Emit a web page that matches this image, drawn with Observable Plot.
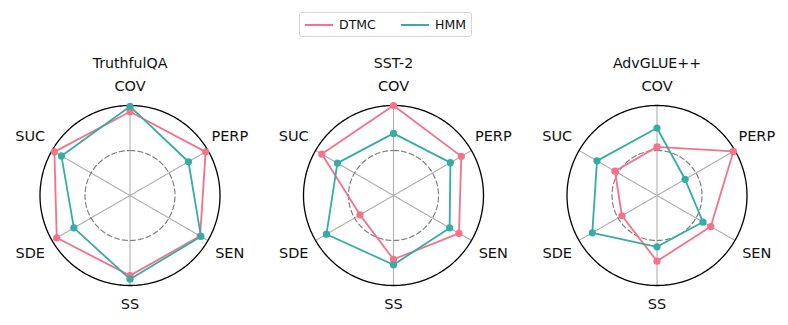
<!DOCTYPE html>
<html>
<head>
<meta charset="utf-8">
<script src="https://cdn.jsdelivr.net/npm/d3@7"></script>
<script src="https://cdn.jsdelivr.net/npm/@observablehq/plot@0.6"></script>
<style>
  body { margin: 0; background: #fff; font-family: "DejaVu Sans", sans-serif; }
  #legend { position: relative; width: 788px; height: 45px; }
  #legend .box { position: absolute; left: 299px; top: 12px; width: 171px; height: 23px;
    border: 1px solid #d6d6d6; border-radius: 3px; box-sizing: content-box; }
  #legend .sw { position: absolute; height: 2px; top: 11px; width: 28px; }
  #legend .lb { position: absolute; top: 3px; font-size: 12.5px; line-height: 17px; color: #111; }
</style>
</head>
<body>
<div id="legend"></div>
<div id="chart"></div>
<script>
const datasets = ["TruthfulQA", "SST-2", "AdvGLUE++"];
const metrics = ["COV", "PERP", "SEN", "SS", "SDE", "SUC"];
const models = ["DTMC", "HMM"];
const colors = ["#f77189", "#36ada4"];

const dtmcTruthfulQA = [0.93, 0.97, 0.90, 0.89, 0.94, 0.97];
const hmmTruthfulQA  = [0.99, 0.75, 0.91, 0.93, 0.72, 0.88];
const dtmcSST2       = [1.00, 0.87, 0.84, 0.71, 0.43, 0.92];
const hmmSST2        = [0.69, 0.73, 0.72, 0.77, 0.86, 0.72];
const dtmcAdvGLUE    = [0.54, 0.98, 0.69, 0.73, 0.45, 0.54];
const hmmAdvGLUE     = [0.75, 0.36, 0.59, 0.57, 0.83, 0.77];

const seriesValues = [
  [dtmcTruthfulQA, hmmTruthfulQA],
  [dtmcSST2, hmmSST2],
  [dtmcAdvGLUE, hmmAdvGLUE]
];

// layout constants (in data units, 1 = outer circle radius)
const spacing = 263.5 / 90;
const angleOf = k => k * Math.PI * 2 / metrics.length;

// build tables
const points = [];
const lines = [];
datasets.forEach((ds, p) => {
  models.forEach((m, mi) => {
    const vals = seriesValues[p][mi];
    vals.forEach((v, k) => {
      const a = angleOf(k);
      const pt = {dataset: ds, model: m, metric: metrics[k], value: v,
        x: p * spacing + v * Math.sin(a), y: v * Math.cos(a)};
      points.push(pt);
      lines.push({...pt, order: k});
    });
    const a0 = angleOf(0);
    lines.push({dataset: ds, model: m, metric: metrics[0], value: vals[0], order: vals.length,
      x: p * spacing + vals[0] * Math.sin(a0), y: vals[0] * Math.cos(a0)});
  });
});

const rings = [];
datasets.forEach((ds, p) => {
  [1, 0.5].forEach(r => {
    for (let i = 0; i <= 360; i++) {
      const a = i * Math.PI / 180;
      rings.push({dataset: ds, ring: r, x: p * spacing + r * Math.sin(a), y: r * Math.cos(a)});
    }
  });
});

const spokes = [];
const labels = [];
datasets.forEach((ds, p) => {
  metrics.forEach((m, k) => {
    const a = angleOf(k);
    spokes.push({dataset: ds, x1: p * spacing, y1: 0, x2: p * spacing + Math.sin(a), y2: Math.cos(a)});
    const diag = (k % 3) !== 0;
    const lr = diag ? 1.28 : 1.215;
    labels.push({dataset: ds, text: m, x: p * spacing + lr * Math.sin(a), y: lr * Math.cos(a) + (diag && Math.cos(a) > 0 ? 0.02 : 0)});
  });
});
const titles = datasets.map((ds, p) => ({text: ds, x: p * spacing, y: 1.468}));

const colorOf = m => colors[models.indexOf(m)];

const chart = Plot.plot({
  width: 788,
  height: 280,
  marginLeft: 0, marginRight: 0, marginTop: 0, marginBottom: 0,
  x: {domain: [-129.5 / 90, (788 - 129.5) / 90], axis: null},
  y: {domain: [-130 / 90, 150 / 90], axis: null},
  style: {fontFamily: "DejaVu Sans, sans-serif", background: "white"},
  marks: [
    Plot.link(spokes, {x1: "x1", y1: "y1", x2: "x2", y2: "y2", stroke: "#b0b0b0", strokeWidth: 1.1}),
    Plot.line(rings.filter(d => d.ring === 0.5), {x: "x", y: "y", z: "dataset", stroke: "#808080", strokeWidth: 1.2, strokeDasharray: "5,3"}),
    Plot.line(rings.filter(d => d.ring === 1), {x: "x", y: "y", z: "dataset", stroke: "#000", strokeWidth: 1.3}),
    ...models.map(m => Plot.line(lines.filter(d => d.model === m), {x: "x", y: "y", z: "dataset", stroke: colorOf(m), strokeWidth: 1.8, curve: "linear"})),
    ...models.map(m => Plot.dot(points.filter(d => d.model === m), {x: "x", y: "y", r: 3.6, fill: colorOf(m), stroke: "none"})),
    Plot.text(labels, {x: "x", y: "y", text: "text", fontSize: 14.5, fill: "#111"}),
    Plot.text(titles, {x: "x", y: "y", text: "text", fontSize: 14.2, fill: "#111"})
  ]
});
document.getElementById("chart").appendChild(chart);

// legend
const leg = document.getElementById("legend");
const box = document.createElement("div");
box.className = "box";
leg.appendChild(box);
const swX = [5, 101];
const lbX = [39, 135];
models.forEach((m, i) => {
  const sw = document.createElement("div");
  sw.className = "sw";
  sw.style.left = swX[i] + "px";
  sw.style.background = colors[i];
  box.appendChild(sw);
  const lb = document.createElement("div");
  lb.className = "lb";
  lb.style.left = lbX[i] + "px";
  lb.textContent = m;
  box.appendChild(lb);
});
</script>
</body>
</html>
